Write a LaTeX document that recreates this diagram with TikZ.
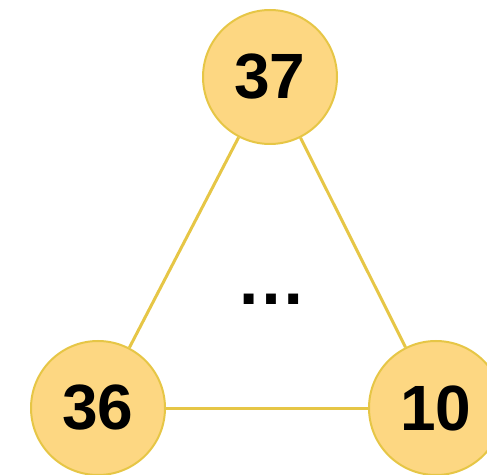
\documentclass[tikz,border=0pt]{standalone}
\usepackage{fontspec}
\setmainfont{Liberation Sans}
\usetikzlibrary{positioning}
\definecolor{vfill}{RGB}{253,215,130}
\definecolor{vline}{RGB}{230,198,70}
\begin{document}
\begin{tikzpicture}[x=1pt,y=1pt,
    vertex/.style={circle,draw=vline,line width=2pt,fill=vfill,minimum size=134pt,inner sep=0pt,
        font=\fontsize{64}{70}\selectfont\bfseries},
    edge/.style={draw=vline,line width=3pt}]
    \useasboundingbox (0,0) rectangle (487,474);
    % vertices
    \node[vertex] (v37) at (270,397) {37};
    \node[vertex] (v36) at (98,66) {36};
    \node[vertex] (v10) at (436,66) {10};
    \node[font=\fontsize{70}{70}\selectfont\bfseries] (dots) at (271,175) {…};
    % edges
    \draw[edge] (v37) -- (v36);
    \draw[edge] (v37) -- (v10);
    \draw[edge] (v36) -- (v10);
\end{tikzpicture}
\end{document}
